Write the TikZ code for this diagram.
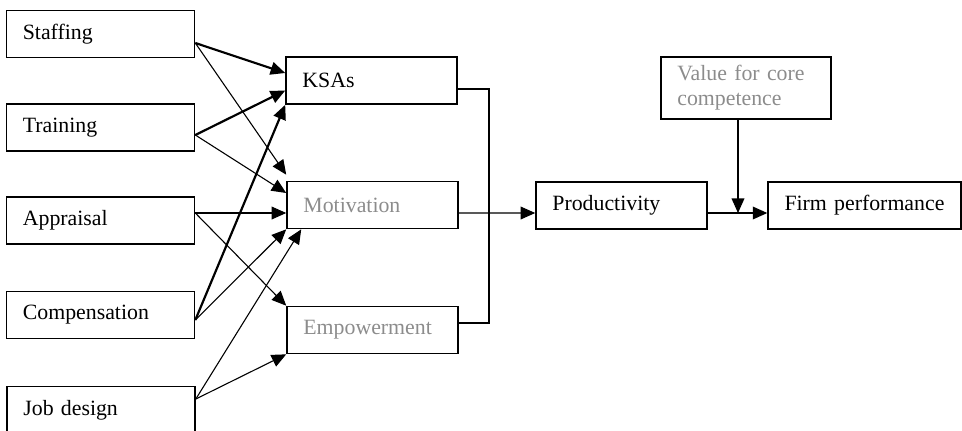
\documentclass[tikz,border=0pt]{standalone}
\usepackage{fontspec}
\setmainfont{Liberation Serif}
\usetikzlibrary{arrows.meta,calc}

\definecolor{faded}{gray}{0.55}

\tikzset{
  box/.style={draw, line width=0.9pt, minimum height=25.85pt, inner xsep=9pt, align=left,
    font=\fontsize{12}{13.8}\selectfont},
  hrm/.style={box, text width=85.4pt},
  mid/.style={box, text width=76pt},
  link/.style={line width=0.6pt, -{Triangle[length=8pt,width=7pt]}},
  strong/.style={link, line width=1.2pt},
}

\begin{document}
\begin{tikzpicture}[x=0.55pt, y=-0.55pt]
		\useasboundingbox (0,0) rectangle (962,430);
		\node[hrm] (staff) at (100.5,34) {Staffing};
		\node[hrm] (train) at (100.5,127.5) {Training};
		\node[hrm] (apprais) at (100.5,220.5) {Appraisal};
		\node[hrm] (comp) at (100.5,315) {Compensation};
		\node[hrm] (jobd) at (101,410) {Job design};
		\node[mid] (ksa) at (371.5,80.5) {KSAs};
		\node[mid, text=faded] (motiv) at (372.5,205) {Motivation};
		\node[mid, text=faded] (empow) at (372.5,330) {Empowerment};
		\node[mid] (prod) at (621.5,205.5) {Productivity};
		\node[box, text width=88pt] (firm) at (864.5,205.5) {Firm performance};
		\node[box, text width=75.5pt, minimum height=34.1pt, text=faded] (value) at (746,88) {Value for core\\competence};
		\coordinate (join) at (489,213);
		\coordinate (meet) at (738,213);
		\draw[strong] ($(staff.east)+(0,9)$) -- ($(ksa.west)+(0,-7.5)$);
		\draw[link] ($(staff.east)+(0,9)$) -- ($(motiv.north west)+(0,-6)$);
		\draw[strong] ($(train.east)+(0,7.5)$) -- ($(ksa.west)+(0,10)$);
		\draw[link] ($(train.east)+(0,7.5)$) -- ($(motiv.west)+(0,-12)$);
		\draw[link] ($(apprais.east)+(0,-7.5)$) -- ($(motiv.west)+(0,8)$);
		\draw[link] ($(apprais.east)+(0,-7.5)$) -- (empow.north west);
		\draw[strong] ($(comp.east)+(0,5)$) -- (ksa.south west);
		\draw[link] ($(comp.east)+(0,5)$) -- (motiv.south west);
		\draw[link] ($(jobd.east)+(0,-11)$) -- ($(motiv.south west)+(15,0)$);
		\draw[link] ($(jobd.east)+(0,-11)$) -- (empow.south west);
		\draw[line width=0.6pt] ($(ksa.east)+(0,8.5)$) -| (join) |- ($(empow.east)+(0,-7)$);
		\draw[link] ($(motiv.east)+(0,8)$) -- ($(prod.west)+(0,7.5)$);
		\draw[link] ($(prod.east)+(0,7.5)$) -- ($(firm.west)+(0,7.5)$);
		\draw[link] (value.south -| meet) -- (meet);
\end{tikzpicture}
\end{document}
